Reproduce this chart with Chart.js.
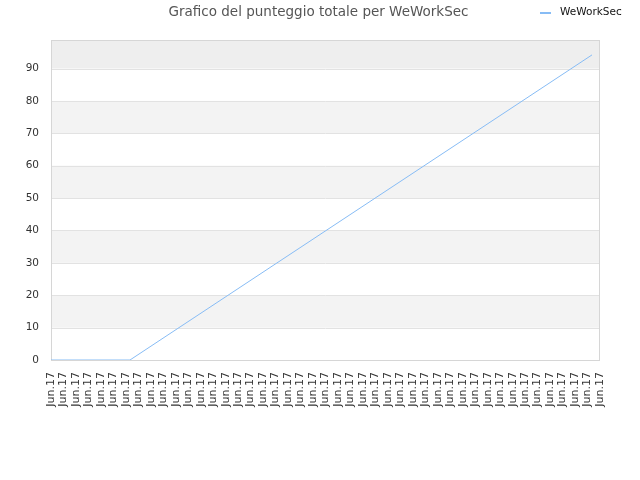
<!DOCTYPE html>
<html>
<head>
<meta charset="utf-8">
<script src="https://cdn.jsdelivr.net/npm/chart.js@4/dist/chart.umd.min.js"></script>
<style>
  html, body { margin: 0; padding: 0; background: #fff; }
  #wrap { width: 640px; height: 480px; }
</style>
</head>
<body>
<div id="wrap"><canvas id="myChart" width="640" height="480"></canvas></div>
<script>
var tickLabels = ['Jun.17', 'Jun.17', 'Jun.17', 'Jun.17', 'Jun.17', 'Jun.17', 'Jun.17', 'Jun.17', 'Jun.17',
    'Jun.17', 'Jun.17', 'Jun.17', 'Jun.17', 'Jun.17', 'Jun.17', 'Jun.17', 'Jun.17', 'Jun.17',
    'Jun.17', 'Jun.17', 'Jun.17', 'Jun.17', 'Jun.17', 'Jun.17', 'Jun.17', 'Jun.17', 'Jun.17',
    'Jun.17', 'Jun.17', 'Jun.17', 'Jun.17', 'Jun.17', 'Jun.17', 'Jun.17', 'Jun.17', 'Jun.17',
    'Jun.17', 'Jun.17', 'Jun.17', 'Jun.17', 'Jun.17', 'Jun.17', 'Jun.17', 'Jun.17', 'Jun.17'];
var seriesName = 'WeWorkSec';
var chartTitle = 'Grafico del punteggio totale per WeWorkSec';
var xValues = [0, 6.33, 43.36];
var yValues = [0, 0, 94.2];
var yMax = 98.8;

var points = xValues.map(function (x, i) { return { x: x, y: yValues[i] }; });
var lineColor = 'rgb(135, 188, 245)';

// alternating bands, frame, title and legend
var decor = {
    id: 'decor',
    beforeDatasetsDraw: function (chart) {
        var c = chart.ctx, a = chart.chartArea, y = chart.scales.y;
        c.save();
        for (var v = 10; v < yMax; v += 20) {
            var top = y.getPixelForValue(Math.min(v + 10, yMax));
            var bot = y.getPixelForValue(v);
            c.fillStyle = v + 10 >= yMax ? '#eeeeee' : '#f3f3f3';
            c.fillRect(a.left, top, a.right - a.left, bot - top);
        }
        c.strokeStyle = '#e2e2e2';
        c.lineWidth = 1;
        y.ticks.forEach(function (t) {
            var py = Math.round(y.getPixelForValue(t.value)) + 0.5;
            c.beginPath(); c.moveTo(a.left, py); c.lineTo(a.right, py); c.stroke();
        });
        c.strokeStyle = '#d6d6d6';
        c.strokeRect(a.left + 0.5, a.top + 0.5, a.right - a.left - 1, a.bottom - a.top);
        c.restore();
    },
    afterDraw: function (chart) {
        var c = chart.ctx;
        c.save();
        c.textBaseline = 'middle';
        c.fillStyle = '#555';
        c.font = '13.5px "DejaVu Sans"';
        c.textAlign = 'center';
        c.fillText(chartTitle, 318.5, 12);
        c.strokeStyle = lineColor;
        c.lineWidth = 2;
        c.beginPath(); c.moveTo(540, 13); c.lineTo(551, 13); c.stroke();
        c.fillStyle = '#111';
        c.font = '10.5px "DejaVu Sans"';
        c.textAlign = 'left';
        c.fillText(seriesName, 560, 12);
        c.restore();
    }
};

var ctx = document.getElementById('myChart').getContext('2d');
var myChart = new Chart(ctx, {
    type: 'line',
    data: {
        datasets: [{
            label: seriesName,
            data: points,
            borderColor: lineColor,
            borderWidth: 1,
            pointRadius: 0,
            tension: 0,
            fill: false
        }]
    },
    options: {
        responsive: false,
        animation: false,
        layout: { padding: { left: 0, right: 40, top: 40, bottom: 0 } },
        plugins: {
            legend: { display: false },
            tooltip: { enabled: false },
            title: { display: false }
        },
        scales: {
            x: {
                type: 'linear',
                min: 0,
                max: tickLabels.length - 1,
                grid: { display: false, drawTicks: false },
                border: { display: false },
                ticks: {
                    stepSize: 1,
                    autoSkip: false,
                    maxRotation: 90,
                    minRotation: 90,
                    padding: 12,
                    color: '#333',
                    font: { family: 'DejaVu Sans', size: 11 },
                    callback: function (v) { return tickLabels[v]; }
                },
                afterFit: function (axis) { axis.height = 120; }
            },
            y: {
                min: 0,
                max: yMax,
                grid: { display: false, drawTicks: false },
                border: { display: false },
                ticks: {
                    stepSize: 10,
                    padding: 12,
                    color: '#333',
                    font: { family: 'DejaVu Sans', size: 10.5 }
                },
                afterBuildTicks: function (axis) {
                    axis.ticks = axis.ticks.filter(function (t) { return t.value % 10 === 0; });
                },
                afterFit: function (axis) { axis.width = 51; }
            }
        }
    },
    plugins: [decor]
});
</script>
</body>
</html>
